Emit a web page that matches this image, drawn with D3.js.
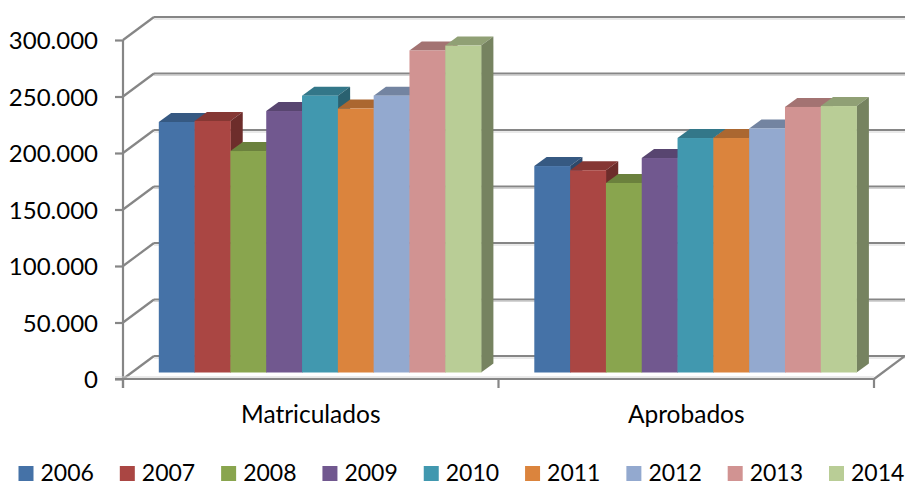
<!DOCTYPE html>
<html><head><meta charset="utf-8">
<script src="https://cdn.jsdelivr.net/npm/d3@7"></script>
<style>html,body{margin:0;padding:0;background:#fff}svg{display:block}text{font-family:Lato,sans-serif;fill:#000}</style>
</head><body><svg id="c" width="905" height="482"></svg>
<script>
const categories = ["Matriculados", "Aprobados"];
const years = ["2006","2007","2008","2009","2010","2011","2012","2013","2014"];
const matriculados = [221700,222600,196000,231400,245000,233600,245000,285000,289300];
const aprobados = [182700,179000,167700,189800,207500,207500,216000,235000,235800];
const colors = ["#4572A7","#AA4643","#89A54E","#71588F","#4198AF","#DB843D","#93A9CF","#D19392","#B9CD96"];
const yTicks = [0,50000,100000,150000,200000,250000,300000];
const series = [matriculados, aprobados];

const svg = d3.select("#c");
const grey = "#868686", shadow = "#d4d4d4";
const wall = {dx:31, dy:-23};
const barFront = {dx:9.3, dy:-6.5}, barDepth = {dx:12.3, dy:-9};
const y = d3.scaleLinear().domain([0,300000]).range([379,40]);
const x0 = d3.scaleBand().domain(categories).range([123,874]);
const x1 = d3.scaleBand().domain(years).range([26.5,348.8]);
const fmt = d3.formatLocale({decimal:",",thousands:".",grouping:[3],currency:["",""]}).format(",d");

function line(g,x1_,y1_,x2_,y2_,sh){
  if(sh) g.append("line").attr("x1",x1_).attr("y1",y1_+2).attr("x2",x2_).attr("y2",y2_+2).attr("stroke",shadow).attr("stroke-width",1);
  g.append("line").attr("x1",x1_).attr("y1",y1_).attr("x2",x2_).attr("y2",y2_).attr("stroke",grey).attr("stroke-width",2.2);
}
// walls and gridlines
const grid = svg.append("g");
yTicks.forEach(t=>{
  line(grid,123+wall.dx,y(t)+wall.dy,874+wall.dx,y(t)+wall.dy,true);
  line(grid,123,y(t),123+wall.dx,y(t)+wall.dy,false);
});
line(grid,874,379,874+wall.dx,379+wall.dy,false);

// axes
const yAxis = d3.axisLeft(y).tickValues(yTicks).tickSize(8).tickPadding(17).tickFormat(fmt);
const ya = svg.append("g").attr("transform","translate(123,0)").call(yAxis);
ya.select(".domain").attr("stroke",grey).attr("stroke-width",2.2).attr("d","M0,40V388");
ya.selectAll(".tick line").attr("stroke",grey).attr("stroke-width",2.2);
ya.selectAll("text").attr("font-size",24).attr("font-family","Lato").attr("fill","#000").attr("y",1);

const xAxis = d3.axisBottom(x0).tickSize(0).tickPadding(27);
const xa = svg.append("g").attr("transform","translate(0,379)").call(xAxis);
xa.select(".domain").attr("stroke",grey).attr("stroke-width",2.2).attr("d","M115,0H874");
xa.selectAll("text").attr("font-size",24.5).attr("font-family","Lato").attr("fill","#000");
svg.append("line").attr("x1",115).attr("x2",874).attr("y1",377).attr("y2",377).attr("stroke",shadow).attr("stroke-width",1);
[x0.range()[0],x0("Aprobados"),x0.range()[1]].forEach(v=>
  svg.append("line").attr("x1",v).attr("x2",v).attr("y1",379).attr("y2",388).attr("stroke",grey).attr("stroke-width",2.2));

// bars: painted left to right, since each bar stands nearer the viewer than the one on its left
const shade=(c,k)=>{const r=d3.rgb(c);return d3.rgb(r.r*k,r.g*k,r.b*k).formatHex();};
const bars = categories.flatMap((c,ci)=>years.map((yr,i)=>({c,yr,i,v:series[ci][i],col:colors[i]})));
const gBars = svg.append("g");
bars.forEach(d=>{
  const l=x0(d.c)+x1(d.yr)+barFront.dx, w=x1.bandwidth(), b=y(0)+barFront.dy, t=y(d.v)+barFront.dy;
  const dx=barDepth.dx, dy=barDepth.dy;
  gBars.append("path").attr("fill",shade(d.col,0.78))
    .attr("d",`M${l},${t}L${l+dx},${t+dy}H${l+w+dx}L${l+w},${t}Z`);
  gBars.append("path").attr("fill",shade(d.col,0.64))
    .attr("d",`M${l+w},${t}L${l+w+dx},${t+dy}V${b+dy}L${l+w},${b}Z`);
  gBars.append("rect").attr("x",l).attr("y",t).attr("width",w+0.3).attr("height",b-t).attr("fill",d.col);
});

// legend
const lx = d3.scalePoint().domain(years).range([18.5,829]);
const lg = svg.append("g").selectAll("g").data(years).join("g").attr("transform",d=>`translate(${lx(d)},466)`);
lg.append("rect").attr("width",15).attr("height",15).attr("fill",(d,i)=>colors[i]);
lg.append("text").attr("x",22).attr("y",15).attr("font-size",23).text(d=>d);
</script></body></html>
